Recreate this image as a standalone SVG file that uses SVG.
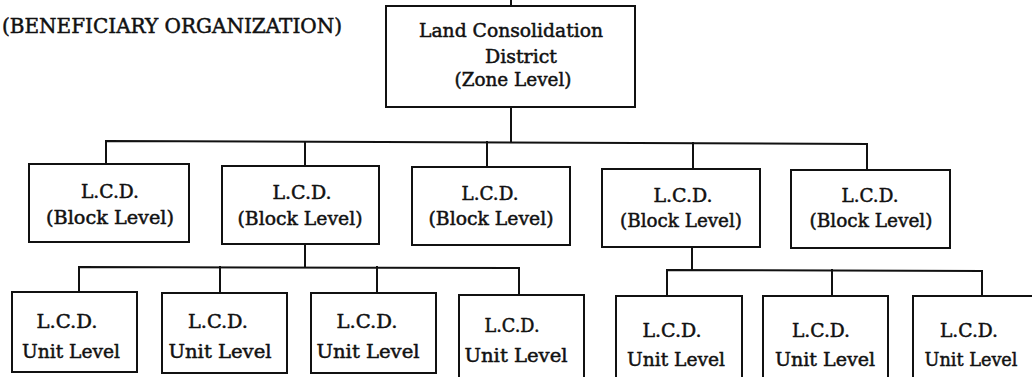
<svg xmlns="http://www.w3.org/2000/svg" width="1032" height="377" viewBox="0 0 1032 377">
  <style>
    .box { fill: #fff; stroke: #111; stroke-width: 2; }
    .wire { fill: none; stroke: #111; stroke-width: 2; stroke-linecap: square; }
    .t { font-family: "DejaVu Serif", "Liberation Serif", serif; font-size: 19px; fill: #111; stroke: #111; stroke-width: 0.5; text-anchor: middle; }
    .title { font-family: "DejaVu Serif", "Liberation Serif", serif; font-size: 20px; fill: #111; stroke: #111; stroke-width: 0.5; }
  </style>
  <rect width="1032" height="377" fill="#fff"/>

  <text class="title" x="2" y="33" textLength="340" lengthAdjust="spacingAndGlyphs">(BENEFICIARY ORGANIZATION)</text>

  <!-- connectors -->
  <g id="connectors">
    <path class="wire" d="M511,0 V6"/>
    <path class="wire" d="M511,107 V142"/>
    <path class="wire" d="M106,164 V141 L867,144 V170"/>
    <path class="wire" d="M305,142 V166"/>
    <path class="wire" d="M487,142 V167"/>
    <path class="wire" d="M693,143 V169"/>
    <!-- block 2 to units -->
    <path class="wire" d="M305,244 V267"/>
    <path class="wire" d="M79,292 V267 L519,268 V295"/>
    <path class="wire" d="M220,267 V293"/>
    <path class="wire" d="M377,267 V293"/>
    <!-- block 4 to units -->
    <path class="wire" d="M692,247 V270"/>
    <path class="wire" d="M667,296 V270 L982,271 V296"/>
    <path class="wire" d="M832,270 V296"/>
  </g>

  <!-- zone level -->
  <g id="zone">
    <rect class="box" x="386" y="6" width="249" height="101"/>
    <text class="t" x="511" y="37" textLength="184" lengthAdjust="spacingAndGlyphs">Land Consolidation</text>
    <text class="t" x="521" y="63" textLength="72" lengthAdjust="spacingAndGlyphs">District</text>
    <text class="t" x="513" y="86" textLength="117" lengthAdjust="spacingAndGlyphs">(Zone Level)</text>
  </g>

  <!-- block level -->
  <g id="block1">
    <rect class="box" x="29" y="164" width="160" height="78"/>
    <text class="t" x="110" y="198" textLength="58" lengthAdjust="spacingAndGlyphs">L.C.D.</text>
    <text class="t" x="110" y="224" textLength="128" lengthAdjust="spacingAndGlyphs">(Block Level)</text>
  </g>
  <g id="block2">
    <rect class="box" x="222" y="166" width="157" height="78"/>
    <text class="t" x="302" y="199" textLength="59" lengthAdjust="spacingAndGlyphs">L.C.D.</text>
    <text class="t" x="300" y="225" textLength="125" lengthAdjust="spacingAndGlyphs">(Block Level)</text>
  </g>
  <g id="block3">
    <rect class="box" x="412" y="167" width="158" height="78"/>
    <text class="t" x="490" y="200" textLength="57" lengthAdjust="spacingAndGlyphs">L.C.D.</text>
    <text class="t" x="491" y="225" textLength="125" lengthAdjust="spacingAndGlyphs">(Block Level)</text>
  </g>
  <g id="block4">
    <rect class="box" x="602" y="169" width="158" height="78"/>
    <text class="t" x="683" y="202" textLength="59" lengthAdjust="spacingAndGlyphs">L.C.D.</text>
    <text class="t" x="681" y="227" textLength="122" lengthAdjust="spacingAndGlyphs">(Block Level)</text>
  </g>
  <g id="block5">
    <rect class="box" x="791" y="170" width="159" height="78"/>
    <text class="t" x="870" y="202" textLength="57" lengthAdjust="spacingAndGlyphs">L.C.D.</text>
    <text class="t" x="871" y="227" textLength="123" lengthAdjust="spacingAndGlyphs">(Block Level)</text>
  </g>

  <!-- unit level -->
  <g id="unit1">
    <rect class="box" x="12" y="292" width="125" height="80"/>
    <text class="t" x="67" y="328" textLength="61" lengthAdjust="spacingAndGlyphs">L.C.D.</text>
    <text class="t" x="71" y="358" textLength="98" lengthAdjust="spacingAndGlyphs">Unit Level</text>
  </g>
  <g id="unit2">
    <rect class="box" x="162" y="293" width="125" height="80"/>
    <text class="t" x="218" y="328" textLength="60" lengthAdjust="spacingAndGlyphs">L.C.D.</text>
    <text class="t" x="220" y="358" textLength="103" lengthAdjust="spacingAndGlyphs">Unit Level</text>
  </g>
  <g id="unit3">
    <rect class="box" x="311" y="293" width="125" height="80"/>
    <text class="t" x="367" y="328" textLength="61" lengthAdjust="spacingAndGlyphs">L.C.D.</text>
    <text class="t" x="368" y="358" textLength="103" lengthAdjust="spacingAndGlyphs">Unit Level</text>
  </g>
  <g id="unit4">
    <rect class="box" x="459" y="295" width="125" height="95"/>
    <text class="t" x="512" y="332" textLength="55" lengthAdjust="spacingAndGlyphs">L.C.D.</text>
    <text class="t" x="516" y="362" textLength="103" lengthAdjust="spacingAndGlyphs">Unit Level</text>
  </g>
  <g id="unit5">
    <rect class="box" x="616" y="296" width="126" height="95"/>
    <text class="t" x="672" y="337" textLength="59" lengthAdjust="spacingAndGlyphs">L.C.D.</text>
    <text class="t" x="676" y="366" textLength="98" lengthAdjust="spacingAndGlyphs">Unit Level</text>
  </g>
  <g id="unit6">
    <rect class="box" x="763" y="296" width="125" height="95"/>
    <text class="t" x="821" y="337" textLength="58" lengthAdjust="spacingAndGlyphs">L.C.D.</text>
    <text class="t" x="825" y="366" textLength="100" lengthAdjust="spacingAndGlyphs">Unit Level</text>
  </g>
  <g id="unit7">
    <rect class="box" x="913" y="296" width="127" height="95"/>
    <text class="t" x="969" y="337" textLength="58" lengthAdjust="spacingAndGlyphs">L.C.D.</text>
    <text class="t" x="971" y="366" textLength="93" lengthAdjust="spacingAndGlyphs">Unit Level</text>
  </g>
</svg>
